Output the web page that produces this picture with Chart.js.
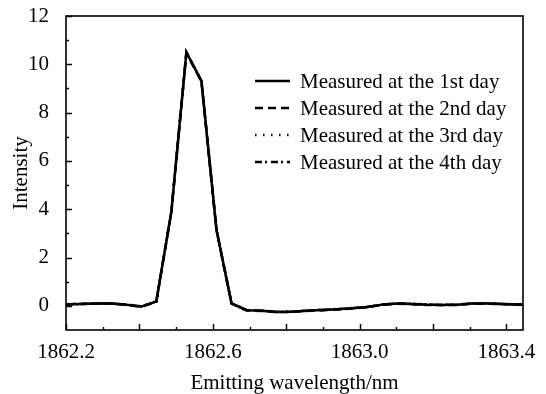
<!DOCTYPE html>
<html>
<head>
<meta charset="utf-8">
<script src="https://cdn.jsdelivr.net/npm/chart.js@4/dist/chart.umd.min.js"></script>
<style>
  html, body { margin: 0; padding: 0; background: #fff; }
  #wrap { width: 546px; height: 394px; }
</style>
</head>
<body>
<div id="wrap"><canvas id="c" width="546" height="394"></canvas></div>
<script>
// Emission spectrum of the source, sampled on four consecutive days.
const wavelengths = [
  1862.200, 1862.241, 1862.282, 1862.323, 1862.364, 1862.405, 1862.446, 1862.487,
  1862.528, 1862.569, 1862.610, 1862.651, 1862.692, 1862.733, 1862.774, 1862.815,
  1862.856, 1862.897, 1862.938, 1862.979, 1863.020, 1863.061, 1863.102, 1863.143,
  1863.184, 1863.225, 1863.266, 1863.307, 1863.348, 1863.389, 1863.430, 1863.471
];
const day1 = [0.07, 0.08, 0.10, 0.10, 0.05, -0.03, 0.18, 3.90, 10.50, 9.30, 3.15, 0.10, -0.18, -0.20, -0.25, -0.24,
              -0.20, -0.17, -0.14, -0.10, -0.05, 0.05, 0.10, 0.08, 0.05, 0.04, 0.05, 0.10, 0.10, 0.08, 0.06, 0.05];
const day2 = [0.06, 0.08, 0.09, 0.10, 0.04, -0.04, 0.17, 3.88, 10.48, 9.28, 3.13, 0.09, -0.19, -0.21, -0.26, -0.25,
              -0.21, -0.18, -0.15, -0.11, -0.06, 0.04, 0.09, 0.07, 0.04, 0.03, 0.04, 0.09, 0.09, 0.07, 0.05, 0.04];
const day3 = [0.08, 0.09, 0.11, 0.11, 0.06, -0.02, 0.19, 3.92, 10.52, 9.32, 3.17, 0.11, -0.17, -0.19, -0.24, -0.23,
              -0.19, -0.16, -0.13, -0.09, -0.04, 0.06, 0.11, 0.09, 0.06, 0.05, 0.06, 0.11, 0.11, 0.09, 0.07, 0.06];
const day4 = [0.07, 0.07, 0.10, 0.09, 0.05, -0.03, 0.18, 3.89, 10.49, 9.31, 3.14, 0.10, -0.18, -0.20, -0.25, -0.24,
              -0.20, -0.17, -0.14, -0.10, -0.05, 0.05, 0.10, 0.08, 0.05, 0.04, 0.05, 0.10, 0.10, 0.08, 0.06, 0.05];
const seriesNames = ['Measured at the 1st day', 'Measured at the 2nd day', 'Measured at the 3rd day', 'Measured at the 4th day'];
const xTickLabels = [1862.2, 1862.6, 1863.0, 1863.4];
const yTickLabels = [0, 2, 4, 6, 8, 10, 12];

const FONT = 'Liberation Serif';
const FONT_SIZE = 21;
const dashes = [[], [8, 5], [1.5, 6.5], [7, 3, 2, 4]];
const seriesValues = [day1, day2, day3, day4];

const datasets = seriesValues.map((vals, k) => ({
  label: seriesNames[k],
  data: wavelengths.map((w, i) => ({ x: w, y: vals[i] })),
  borderColor: '#000',
  borderWidth: 2.5,
  borderDash: dashes[k],
  pointRadius: 0,
  tension: 0,
  fill: false
}));

// Frame, inward tick marks and the in-plot legend.
const framePlugin = {
  id: 'frame',
  afterDraw(chart) {
    const { ctx, chartArea: a, scales } = chart;
    const xs = scales.x, ys = scales.y;
    ctx.save();
    ctx.strokeStyle = '#000';
    ctx.lineWidth = 1.6;
    ctx.setLineDash([]);
    ctx.strokeRect(a.left, a.top, a.right - a.left, a.bottom - a.top);

    ctx.lineWidth = 1.4;
    ctx.beginPath();
    for (let i = 0; i <= 12; i++) {
      const v = 1862.2 + i * 0.1;
      const px = Math.round(xs.getPixelForValue(v)) + 0.5;
      const len = i % 2 === 0 ? 6 : 3;
      ctx.moveTo(px, a.bottom);
      ctx.lineTo(px, a.bottom - len);
    }
    for (let v = 0; v <= 12; v++) {
      const py = Math.round(ys.getPixelForValue(v)) + 0.5;
      const len = v % 2 === 0 ? 6 : 3;
      ctx.moveTo(a.left, py);
      ctx.lineTo(a.left + len, py);
    }
    ctx.stroke();

    // legend
    ctx.font = FONT_SIZE + 'px "' + FONT + '"';
    ctx.fillStyle = '#000';
    ctx.textBaseline = 'middle';
    ctx.textAlign = 'left';
    chart.data.datasets.forEach((ds, k) => {
      const y = 81 + k * 27;
      ctx.beginPath();
      ctx.lineWidth = 2.4;
      ctx.setLineDash(ds.borderDash);
      ctx.moveTo(255, y);
      ctx.lineTo(290, y);
      ctx.stroke();
      ctx.setLineDash([]);
      ctx.fillText(ds.label, 300, y + 1);
    });
    ctx.restore();
  }
};

new Chart(document.getElementById('c'), {
  type: 'line',
  data: { datasets },
  options: {
    responsive: false,
    animation: false,
    devicePixelRatio: 1,
    layout: { padding: { top: 16, right: 23, bottom: 0, left: 0 } },
    plugins: { legend: { display: false }, tooltip: { enabled: false } },
    scales: {
      x: {
        type: 'linear',
        min: 1862.2,
        max: 1863.445,
        afterBuildTicks: s => { s.ticks = xTickLabels.map(v => ({ value: v })); },
        afterFit: s => { s.height = 64; s.paddingLeft = 0; s.paddingRight = 0; },
        grid: { display: false },
        border: { display: false },
        ticks: {
          color: '#000', font: { family: FONT, size: FONT_SIZE }, padding: 2,
          maxRotation: 0, autoSkip: false,
          callback: v => Number(v).toFixed(1)
        },
        title: {
          display: true, text: 'Emitting wavelength/nm', color: '#000',
          font: { family: FONT, size: FONT_SIZE, lineHeight: 1 }, padding: { top: 0, bottom: 0 }
        }
      },
      y: {
        type: 'linear',
        min: -1,
        max: 12,
        afterBuildTicks: s => { s.ticks = yTickLabels.map(v => ({ value: v })); },
        afterFit: s => { s.width = 66; s.paddingTop = 0; s.paddingBottom = 0; },
        grid: { display: false },
        border: { display: false },
        ticks: {
          color: '#000', font: { family: FONT, size: FONT_SIZE }, padding: 9,
          callback: v => String(v)
        },
        title: {
          display: true, text: 'Intensity', color: '#000',
          font: { family: FONT, size: FONT_SIZE }, padding: { top: 9, bottom: 0 }
        }
      }
    }
  },
  plugins: [framePlugin]
});
</script>
</body>
</html>
